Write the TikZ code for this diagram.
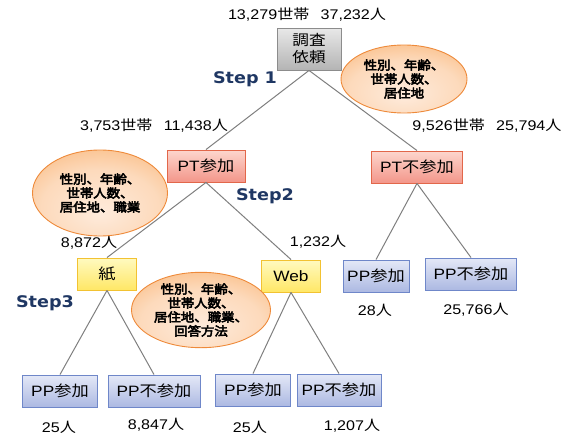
\documentclass[tikz,border=0pt]{standalone}
\usepackage{fontspec}
\setmainfont[FakeStretch=1.15]{Liberation Sans}
\newfontfamily\jp[FakeStretch=1.15]{Noto Sans CJK JP}
\newfontfamily\jpbold[FakeStretch=1.1, FakeBold=4]{Noto Sans CJK JP}
\newfontfamily\stepfont[FakeStretch=1.1]{DejaVu Sans}
\usepackage{xcolor}
\usetikzlibrary{positioning,shapes.geometric}

\definecolor{rootA}{HTML}{E8E8E8}
\definecolor{rootB}{HTML}{B4B4B4}
\definecolor{rootline}{HTML}{8C8C8C}
\definecolor{ptA}{HTML}{FDD6CD}
\definecolor{ptB}{HTML}{F3968A}
\definecolor{ptline}{HTML}{E2674A}
\definecolor{modeA}{HTML}{FFFAC0}
\definecolor{modeB}{HTML}{FFE766}
\definecolor{modeline}{HTML}{F2C232}
\definecolor{ppA}{HTML}{E4E8F7}
\definecolor{ppB}{HTML}{ACB9E2}
\definecolor{ppline}{HTML}{6F87C9}
\definecolor{attrA}{HTML}{FEEBDC}
\definecolor{attrB}{HTML}{F8A65A}
\definecolor{attrline}{HTML}{EE8A3A}
\definecolor{stepblue}{HTML}{1F3763}
\definecolor{linegray}{HTML}{7F7F7F}

\pgfdeclareradialshading{attrshade}{\pgfpoint{0bp}{-12bp}}{color(0bp)=(attrA); color(22bp)=(attrA!75!attrB); color(48bp)=(attrB); color(70bp)=(attrB)}

\newcommand{\ja}[1]{{\jp #1}}

\begin{document}
\begin{tikzpicture}[x=1pt, y=-1pt,
    every node/.style={font=\fontsize{14}{16}\selectfont},
    box/.style={rectangle, draw, line width=0.9pt, minimum height=32pt, inner sep=2pt, font=\fontsize{15}{17}\selectfont},
    rootbox/.style={box, draw=rootline, top color=rootA, bottom color=rootB, minimum height=42pt, align=center, font=\fontsize{14.5}{17}\selectfont},
    ptbox/.style={box, draw=ptline, top color=ptA, bottom color=ptB},
    modebox/.style={box, draw=modeline, top color=modeA, bottom color=modeB},
    ppbox/.style={box, draw=ppline, top color=ppA, bottom color=ppB},
    attr/.style={ellipse, draw=attrline, line width=0.9pt, shading=attrshade, align=center, inner sep=0pt, font=\jpbold\fontsize{12.2}{14}\selectfont},
    count/.style={inner sep=0pt},
    steplabel/.style={text=stepblue, font=\stepfont\bfseries\fontsize{16}{18}\selectfont},
    link/.style={draw=linegray, line width=1pt}]
    \useasboundingbox (0,0) rectangle (574,439);

    % Step 1: survey request
    \node[rootbox, minimum width=64pt] (req) at (309,49) {\ja{調査}\\\ja{依頼}};
    \node[count] (reqn) at (307,15) {13,279\ja{世帯}\hspace{0.8em}37,232\ja{人}};
    \node[steplabel] (s1) at (245,79) {Step 1};

    % Step 2: PT participation
    \node[ptbox, minimum width=78pt] (pt) at (206,166) {PT\ja{参加}};
    \node[ptbox, minimum width=91pt] (npt) at (417,167) {PT\ja{不参加}};
    \node[count] (ptn) at (154,126) {3,753\ja{世帯}\hspace{0.8em}11,438\ja{人}};
    \node[count] (nptn) at (487,126) {9,526\ja{世帯}\hspace{0.8em}25,794\ja{人}};
    \node[steplabel] (s2) at (265,196) {Step2};

    % Step 3: answer mode
    \node[modebox, minimum width=59pt] (paper) at (107,274) {\ja{紙}};
    \node[modebox, minimum width=59pt] (web) at (291,276) {Web};
    \node[count] (papern) at (89,243) {8,872\ja{人}};
    \node[count] (webn) at (318,242) {1,232\ja{人}};
    \node[steplabel] (s3) at (45,303) {Step3};

    % PP participation
    \node[ppbox, minimum width=66pt] (nptpp) at (376,276) {PP\ja{参加}};
    \node[ppbox, minimum width=91pt] (nptnpp) at (471,274) {PP\ja{不参加}};
    \node[count] (nptppn) at (375,310) {28\ja{人}};
    \node[count] (nptnppn) at (476,310) {25,766\ja{人}};

    \node[ppbox, minimum width=75pt] (paperpp) at (60,391) {PP\ja{参加}};
    \node[ppbox, minimum width=92pt] (papernpp) at (154,391) {PP\ja{不参加}};
    \node[ppbox, minimum width=75pt] (webpp) at (253,390) {PP\ja{参加}};
    \node[ppbox, minimum width=84pt] (webnpp) at (339,390) {PP\ja{不参加}};
    \node[count] (paperppn) at (59,427) {25\ja{人}};
    \node[count] (papernppn) at (156,425) {8,847\ja{人}};
    \node[count] (webppn) at (250,427) {25\ja{人}};
    \node[count] (webnppn) at (352,426) {1,207\ja{人}};

    % connectors
    \draw[link] (req.south) -- (pt.north);
    \draw[link] (req.south) -- (npt.north);
    \draw[link] (pt.south) -- (paper.north);
    \draw[link] (pt.south) -- (web.north);
    \draw[link] (npt.south) -- (nptpp.north);
    \draw[link] (npt.south) -- (nptnpp.north);
    \draw[link] (paper.south) -- (paperpp.north);
    \draw[link] (paper.south) -- (papernpp.north);
    \draw[link] (web.south) -- (webpp.north);
    \draw[link] (web.south) -- (webnpp.north);

    % attribute ellipses
    \node[attr, minimum width=126pt, minimum height=68pt] (attr1) at (404,79) {性別、年齢、\\世帯人数、\\居住地};
    \node[attr, minimum width=135pt, minimum height=86pt] (attr2) at (100,193) {性別、年齢、\\世帯人数、\\居住地、職業};
    \node[attr, minimum width=139pt, minimum height=62pt] (attr3) at (201,310) {性別、年齢、\\世帯人数、\\居住地、職業、\\回答方法};
\end{tikzpicture}
\end{document}
